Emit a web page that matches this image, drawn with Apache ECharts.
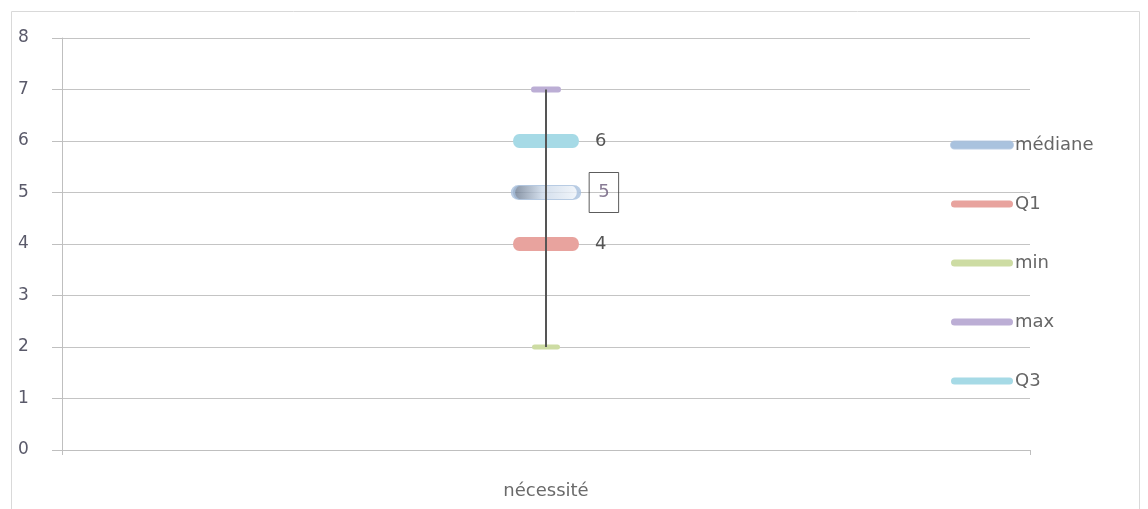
<!DOCTYPE html>
<html><head><meta charset="utf-8">
<script src="https://cdn.jsdelivr.net/npm/echarts@6/dist/echarts.min.js"></script>
<style>html,body{margin:0;padding:0;background:#fff}#c{width:1148px;height:509px}</style>
</head><body><div id="c"></div>
<script>
var categories = ['nécessité'];
var seriesNames = ['médiane', 'Q1', 'min', 'max', 'Q3'];
var medianeValues = [5];
var q1Values = [4];
var minValues = [2];
var maxValues = [7];
var q3Values = [6];
var yTicks = [0, 1, 2, 3, 4, 5, 6, 7, 8];

var colors = {
  'médiane': '#94b3d6', 'Q1': '#e8a39e', 'min': '#cddca3', 'max': '#bcaed5', 'Q3': '#a6dae6'
};
var font = '"DejaVu Sans", sans-serif';
var pill = 'path://M6,0 L58,0 A6,6 0 0 1 58,12 L6,12 A6,6 0 0 1 6,0 Z';
var legendPill = 'path://M3.5,0 L58.5,0 A3.5,3.5 0 0 1 58.5,7 L3.5,7 A3.5,3.5 0 0 1 3.5,0 Z';

function ser(name, vals, size, extra) {
  var s = {
    name: name, type: 'scatter', data: vals, symbol: pill, symbolSize: size, symbolKeepAspect: false,
    itemStyle: { color: colors[name], opacity: 1 }, z: 2,
    label: { show: false }
  };
  for (var k in extra) s[k] = extra[k];
  return s;
}

var chart = echarts.init(document.getElementById('c'));
chart.setOption({
  animation: false,
  graphic: [{ type: 'rect', shape: { x: 11.5, y: 11.5, width: 1128, height: 500 },
    style: { fill: 'none', stroke: '#d9d9d9', lineWidth: 1 }, silent: true }],
  grid: { left: 62, right: 118, top: 38, bottom: 59 },
  legend: {
    orient: 'vertical', left: 945, top: 131, itemGap: 41,
    icon: legendPill, itemWidth: 62, itemHeight: 7,
    data: seriesNames.map(function (n) { return { name: n, itemStyle: { color: colors[n] } }; }),
    textStyle: { fontFamily: font, fontSize: 18, color: '#666', padding: [0, 0, 0, -3] }
  },
  xAxis: {
    type: 'category', data: categories, boundaryGap: true,
    axisLine: { lineStyle: { color: '#bfbfbf', width: 1 } },
    axisTick: { show: true, length: 5, lineStyle: { color: '#bfbfbf' } },
    axisLabel: { fontFamily: font, fontSize: 18, color: '#6a6a6a', margin: 32 }
  },
  yAxis: {
    type: 'value', min: yTicks[0], max: yTicks[yTicks.length - 1], interval: 1,
    axisLine: { show: true, lineStyle: { color: '#bfbfbf', width: 1 } },
    axisTick: { show: true, length: 10, lineStyle: { color: '#bfbfbf' } },
    splitLine: { lineStyle: { color: '#c4c4c4', width: 1 } },
    axisLabel: { fontFamily: font, fontSize: 17, color: '#5a5a6a', margin: 44, align: 'left' }
  },
  series: [
    ser('médiane', medianeValues, [66, 14], {
      itemStyle: {
        color: new echarts.graphic.LinearGradient(0, 0, 1, 0, [
          { offset: 0, color: '#5f6f85' }, { offset: 0.45, color: '#c9d7e8' }, { offset: 1, color: '#f2f6fb' }
        ]),
        borderColor: '#a9c0dd', borderWidth: 2
      },
      label: { show: true, position: 'right', distance: 8, fontFamily: font, fontSize: 18, color: '#6a5a7a',
        borderColor: '#333', borderWidth: 1, padding: [11, 9, 11, 9] }
    }),
    ser('Q1', q1Values, [66, 14], {
      label: { show: true, position: 'right', distance: 16, fontFamily: font, fontSize: 18, color: '#555' }
    }),
    ser('min', minValues, [28, 5], {
      markLine: {
        silent: true, symbol: 'none', z: 5,
        lineStyle: { color: '#555', width: 2, type: 'solid' },
        label: { show: false },
        data: [[{ coord: [categories[0], minValues[0]] }, { coord: [categories[0], maxValues[0]] }]]
      }
    }),
    ser('max', maxValues, [30, 6], {}),
    ser('Q3', q3Values, [66, 14], {
      label: { show: true, position: 'right', distance: 16, fontFamily: font, fontSize: 18, color: '#555' }
    })
  ]
});
</script></body></html>
